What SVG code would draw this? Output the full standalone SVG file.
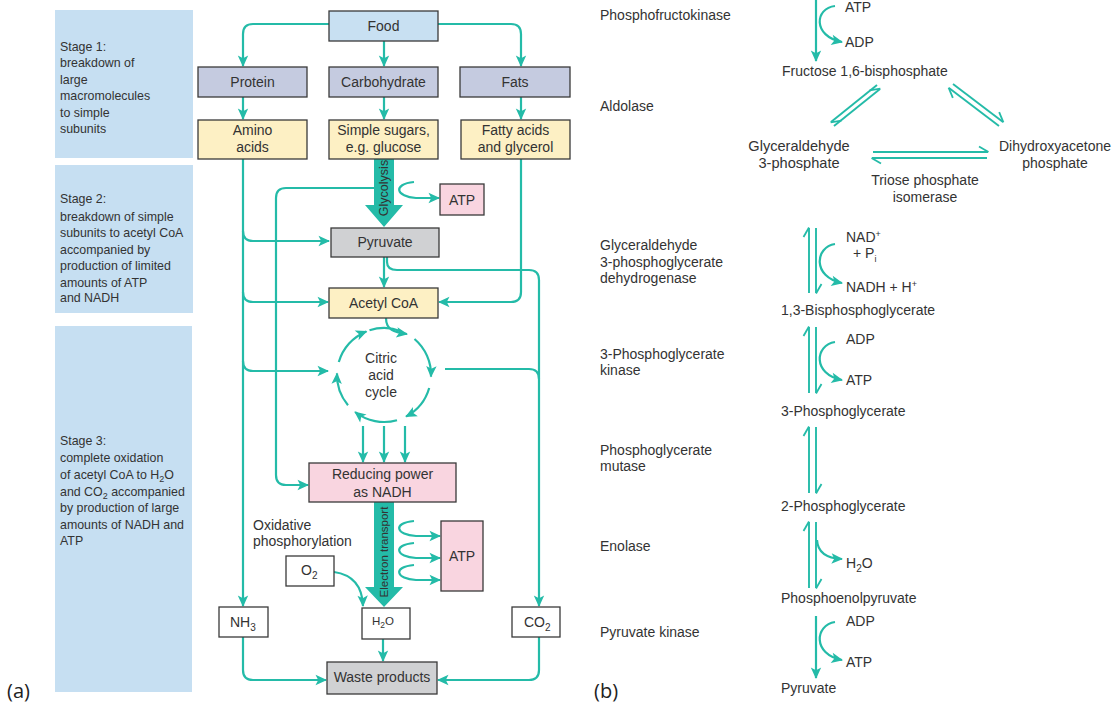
<svg xmlns="http://www.w3.org/2000/svg" width="1114" height="704" viewBox="0 0 1114 704">
  <style>
    text { font-family: "Liberation Sans", Arial, sans-serif; fill: #333; }
    .lbl { font-size: 14px; }
    .lg { font-size: 14.6px; }
    .mid { text-anchor: middle; }
    .stage { font-size: 12.4px; }
    .panel { fill: #c6dff2; }
    .box { stroke: #3a3a3a; stroke-width: 1.3; }
    .food { fill: #c8e0f2; }
    .macro { fill: #c5cbe0; }
    .unit { fill: #fdf0c4; }
    .pink { fill: #f9d5e0; }
    .grey { fill: #d0d1d3; }
    .white { fill: #ffffff; }
    .ln { fill: none; stroke: #24bba8; stroke-width: 2.2; }
    .ar { marker-end: url(#arrow); }
    .hp { fill: none; stroke: #24bba8; stroke-width: 1.9; marker-end: url(#harpoon); }
    .big { fill: #24bba8; }
    .tag { font-size: 20px; font-family: "Open Sans", "Liberation Sans", sans-serif; fill: #222; }
  </style>
  <defs>
    <marker id="arrow" markerUnits="userSpaceOnUse" markerWidth="14" markerHeight="14" viewBox="-12 -7 14 14" refX="0" refY="0" orient="auto" overflow="visible">
      <path d="M1,0 L-10.5,-5.2 L-7.8,0 L-10.5,5.2 Z" fill="#24bba8"/>
    </marker>
    <marker id="harpoon" markerUnits="userSpaceOnUse" markerWidth="14" markerHeight="14" viewBox="-12 -7 14 14" refX="0" refY="0" orient="auto" overflow="visible">
      <path d="M0.5,0 L-9,-5.5" fill="none" stroke="#24bba8" stroke-width="1.8"/>
    </marker>
  </defs>

  <!-- Stage panels -->
  <g id="stage1">
    <rect class="panel" x="55" y="10" width="138" height="148"/>
    <text class="stage" x="60" y="51">Stage 1:</text>
    <text class="stage" x="60" y="67">breakdown of</text>
    <text class="stage" x="60" y="84">large</text>
    <text class="stage" x="60" y="100">macromolecules</text>
    <text class="stage" x="60" y="117">to simple</text>
    <text class="stage" x="60" y="133">subunits</text>
  </g>
  <g id="stage2">
    <rect class="panel" x="55" y="165" width="138" height="148"/>
    <text class="stage" x="60" y="203">Stage 2:</text>
    <text class="stage" x="60" y="221">breakdown of simple</text>
    <text class="stage" x="60" y="237">subunits to acetyl CoA</text>
    <text class="stage" x="60" y="254">accompanied by</text>
    <text class="stage" x="60" y="270">production of limited</text>
    <text class="stage" x="60" y="287">amounts of ATP</text>
    <text class="stage" x="60" y="302">and NADH</text>
  </g>
  <g id="stage3">
    <rect class="panel" x="55" y="326" width="137" height="366"/>
    <text class="stage" x="60" y="445">Stage 3:</text>
    <text class="stage" x="60" y="462">complete oxidation</text>
    <text class="stage" x="60" y="479">of acetyl CoA to H<tspan dy="3" font-size="9">2</tspan><tspan dy="-3">O</tspan></text>
    <text class="stage" x="60" y="496">and CO<tspan dy="3" font-size="9">2</tspan><tspan dy="-3"> accompanied</tspan></text>
    <text class="stage" x="60" y="512">by production of large</text>
    <text class="stage" x="60" y="529">amounts of NADH and</text>
    <text class="stage" x="60" y="545">ATP</text>
  </g>
  <text class="tag" x="7" y="698">(a)</text>
  <text class="tag" x="594" y="698">(b)</text>

  <!-- Catabolism overview: connectors -->
  <g id="connectors-a">
    <path class="ln ar" d="M329,24 H253 Q243,24 243,34 V66"/>
    <path class="ln ar" d="M438,24 H511 Q521,24 521,34 V66"/>
    <path class="ln ar" d="M384,41 V66"/>
    <path class="ln ar" d="M243,97 V119"/>
    <path class="ln ar" d="M384,97 V119"/>
    <path class="ln ar" d="M521,97 V119"/>
    <!-- amino acid trunk and its branches -->
    <path class="ln ar" d="M243,159 V606"/>
    <path class="ln ar" d="M243,231 Q243,241 253,241 H329"/>
    <path class="ln ar" d="M243,292 Q243,302 253,302 H328"/>
    <path class="ln ar" d="M243,361 Q243,371 253,371 H328"/>
    <!-- glycolysis side route to NADH -->
    <path class="ln ar" d="M374,188 H286 Q276,188 276,198 V475 Q276,485 286,485 H308"/>
    <path class="ln ar" d="M414,182 C392,184 396,197 416,198 L439,198"/>
    <!-- fatty acids to acetyl CoA -->
    <path class="ln ar" d="M521,159 V292 Q521,302 511,302 H439"/>
    <!-- pyruvate -->
    <path class="ln ar" d="M384,257 V287"/>
    <path class="ln ar" d="M387,257 V262 Q387,270 397,270 H529 Q539,270 539,280 V606"/>
    <path class="ln" d="M445,369 H529 Q539,369 539,379"/>
    <!-- acetyl CoA into the cycle -->
    <path class="ln ar" d="M386,318 C386,330 394,332 407,334"/>
    <!-- citric acid cycle arcs -->
    <path class="ln ar" d="M414.5,339 A47,47 0 0 1 431,376.6"/>
    <path class="ln ar" d="M429.2,388 A47,47 0 0 1 406.1,416.5"/>
    <path class="ln ar" d="M397,420.2 A47,47 0 0 1 355.1,412"/>
    <path class="ln ar" d="M348,405.2 A47,47 0 0 1 337,373.4"/>
    <path class="ln ar" d="M338.8,362 A47,47 0 0 1 366.4,331.4"/>
    <path class="ln" d="M369.5,330.3 A47,47 0 0 1 401.6,331.4"/>
    <!-- cycle to NADH -->
    <path class="ln ar" d="M363,426 V462"/>
    <path class="ln ar" d="M384,426 V462"/>
    <path class="ln ar" d="M405,426 V462"/>
    <!-- electron transport to ATP -->
    <path class="ln ar" d="M414,521 C392,523 396,535 416,536 L440,536"/>
    <path class="ln ar" d="M414,543 C392,545 396,557 416,558 L440,558"/>
    <path class="ln ar" d="M414,565 C392,567 396,579 416,580 L440,580"/>
    <!-- oxygen to water -->
    <path class="ln ar" d="M334,572 Q362,576 363,606"/>
    <!-- waste -->
    <path class="ln ar" d="M383,639 V661"/>
    <path class="ln ar" d="M243,637 V670 Q243,680 253,680 H326"/>
    <path class="ln ar" d="M539,637 V670 Q539,680 529,680 H438"/>
  </g>

  <!-- Thick process arrows -->
  <g id="glycolysis">
    <polygon class="big" points="374,159 394,159 394,205 403,205 384,227 365,205 374,205"/>
    <text font-size="12.5" class="mid" transform="translate(388,188) rotate(-90)">Glycolysis</text>
  </g>
  <g id="electron-transport">
    <polygon class="big" points="374,502 394,502 394,587 403,587 384,607 365,587 374,587"/>
    <text font-size="11.5" class="mid" transform="translate(388,552) rotate(-90)">Electron transport</text>
  </g>

  <!-- Nodes -->
  <g id="food"><rect class="box food" x="329" y="11" width="109" height="30"/><text class="lbl mid" x="383.5" y="31">Food</text></g>
  <g id="protein"><rect class="box macro" x="198" y="67" width="109" height="30"/><text class="lbl mid" x="252.5" y="87">Protein</text></g>
  <g id="carbohydrate"><rect class="box macro" x="329" y="67" width="109" height="30"/><text class="lbl mid" x="383.5" y="87">Carbohydrate</text></g>
  <g id="fats"><rect class="box macro" x="460" y="67" width="110" height="30"/><text class="lbl mid" x="515" y="87">Fats</text></g>
  <g id="amino-acids"><rect class="box unit" x="198" y="120" width="109" height="39"/><text class="lbl mid" x="252.5" y="135">Amino</text><text class="lbl mid" x="252.5" y="152">acids</text></g>
  <g id="simple-sugars"><rect class="box unit" x="329" y="120" width="109" height="39"/><text class="lbl mid" x="383.5" y="135">Simple sugars,</text><text class="lbl mid" x="383.5" y="152">e.g. glucose</text></g>
  <g id="fatty-acids"><rect class="box unit" x="461" y="120" width="109" height="39"/><text class="lbl mid" x="515.5" y="135">Fatty acids</text><text class="lbl mid" x="515.5" y="152">and glycerol</text></g>
  <g id="atp-glycolysis"><rect class="box pink" x="440" y="184" width="44" height="31"/><text class="lbl mid" x="462" y="205">ATP</text></g>
  <g id="pyruvate-a"><rect class="box grey" x="331" y="228" width="108" height="29"/><text class="lbl mid" x="385" y="247">Pyruvate</text></g>
  <g id="acetyl-coa"><rect class="box unit" x="329" y="288" width="109" height="30"/><text class="lbl mid" x="383.5" y="308">Acetyl CoA</text></g>
  <g id="citric-acid-cycle"><text class="lbl mid" x="381" y="363">Citric</text><text class="lbl mid" x="381" y="380">acid</text><text class="lbl mid" x="381" y="397">cycle</text></g>
  <g id="reducing-power"><rect class="box pink" x="309" y="463" width="147" height="39"/><text class="lbl mid" x="382.5" y="479">Reducing power</text><text class="lbl mid" x="382.5" y="497">as NADH</text></g>
  <g id="oxidative-phosphorylation"><text class="lbl" x="253" y="530">Oxidative</text><text class="lbl" x="253" y="546">phosphorylation</text></g>
  <g id="atp-oxphos"><rect class="box pink" x="441" y="521" width="42" height="70"/><text class="lbl mid" x="462" y="561">ATP</text></g>
  <g id="oxygen"><rect class="box white" x="286" y="556" width="48" height="30"/><text class="lbl" x="301" y="575">O<tspan dy="4" font-size="10">2</tspan></text></g>
  <g id="ammonia"><rect class="box white" x="219" y="607" width="49" height="30"/><text class="lbl" x="230" y="627">NH<tspan dy="4" font-size="10">3</tspan></text></g>
  <g id="water"><rect class="box white" x="362" y="608" width="48" height="31"/><text font-size="11.5" x="372" y="625">H<tspan dy="3" font-size="8.5">2</tspan><tspan dy="-3">O</tspan></text></g>
  <g id="carbon-dioxide"><rect class="box white" x="512" y="607" width="48" height="30"/><text class="lbl" x="524" y="627">CO<tspan dy="4" font-size="10">2</tspan></text></g>
  <g id="waste-products"><rect class="box grey" x="327" y="662" width="110" height="32"/><text class="lbl mid" x="382" y="682">Waste products</text></g>

  <!-- Glycolysis pathway: connectors -->
  <g id="connectors-b">
    <path class="ln ar" d="M816,0 V61"/>
    <path class="ln ar" d="M835,6 C815,8 812,36 842,42"/>
    <path class="hp" d="M834,126 L880,89"/>
    <path class="hp" d="M877,85 L831,122"/>
    <path class="hp" d="M953,84 L1003,122"/>
    <path class="hp" d="M999,126 L949,88"/>
    <path class="hp" d="M873,152 H988"/>
    <path class="hp" d="M987,158 H872"/>
    <path class="hp" d="M809,293 V228"/>
    <path class="hp" d="M816,228 V293"/>
    <path class="ln ar" d="M835,244 C815,247 812,277 842,283"/>
    <path class="hp" d="M809,393 V327"/>
    <path class="hp" d="M816,327 V393"/>
    <path class="ln ar" d="M835,342 C815,345 812,374 842,380"/>
    <path class="hp" d="M809,493 V427"/>
    <path class="hp" d="M816,427 V493"/>
    <path class="hp" d="M809,588 V522"/>
    <path class="hp" d="M816,522 V588"/>
    <path class="ln ar" d="M817,540 Q818,558 842,559"/>
    <path class="ln ar" d="M816,616 V678"/>
    <path class="ln ar" d="M835,622 C815,625 812,654 842,660"/>
  </g>

  <!-- Enzyme labels -->
  <g id="enzymes">
    <text class="lbl" x="600" y="20">Phosphofructokinase</text>
    <text class="lbl" x="600" y="111">Aldolase</text>
    <text class="lbl" x="600" y="250">Glyceraldehyde</text>
    <text class="lbl" x="600" y="267">3-phosphoglycerate</text>
    <text class="lbl" x="600" y="283">dehydrogenase</text>
    <text class="lbl" x="600" y="359">3-Phosphoglycerate</text>
    <text class="lbl" x="600" y="375">kinase</text>
    <text class="lbl" x="600" y="455">Phosphoglycerate</text>
    <text class="lbl" x="600" y="471">mutase</text>
    <text class="lbl" x="600" y="551">Enolase</text>
    <text class="lbl" x="600" y="637">Pyruvate kinase</text>
  </g>

  <!-- Metabolites -->
  <g id="fructose-bisphosphate"><text class="lbl" x="782" y="76">Fructose 1,6-bisphosphate</text></g>
  <g id="glyceraldehyde-3-phosphate"><text class="lg mid" x="799" y="151">Glyceraldehyde</text><text class="lg mid" x="799" y="168">3-phosphate</text></g>
  <g id="dihydroxyacetone-phosphate"><text class="lbl mid" x="1055" y="151">Dihydroxyacetone</text><text class="lbl mid" x="1055" y="168">phosphate</text></g>
  <g id="triose-phosphate-isomerase"><text class="lbl mid" x="925" y="185">Triose phosphate</text><text class="lbl mid" x="925" y="202">isomerase</text></g>
  <g id="bisphosphoglycerate"><text class="lbl" x="781" y="315">1,3-Bisphosphoglycerate</text></g>
  <g id="phosphoglycerate-3"><text class="lbl" x="781" y="416">3-Phosphoglycerate</text></g>
  <g id="phosphoglycerate-2"><text class="lbl" x="781" y="511">2-Phosphoglycerate</text></g>
  <g id="phosphoenolpyruvate"><text class="lbl" x="781" y="603">Phosphoenolpyruvate</text></g>
  <g id="pyruvate-b"><text class="lbl" x="781" y="693">Pyruvate</text></g>

  <!-- Cofactors -->
  <g id="cofactors">
    <text class="lbl" x="845" y="12">ATP</text>
    <text class="lbl" x="845" y="47">ADP</text>
    <text class="lbl" x="846" y="242">NAD<tspan dy="-5" font-size="9">+</tspan></text>
    <text class="lbl" x="853" y="258">+ P<tspan dy="4" font-size="9">i</tspan></text>
    <text class="lbl" x="846" y="292">NADH + H<tspan dy="-5" font-size="9">+</tspan></text>
    <text class="lbl" x="846" y="344">ADP</text>
    <text class="lbl" x="846" y="385">ATP</text>
    <text class="lbl" x="846" y="568">H<tspan dy="4" font-size="10">2</tspan><tspan dy="-4">O</tspan></text>
    <text class="lbl" x="846" y="626">ADP</text>
    <text class="lbl" x="846" y="667">ATP</text>
  </g>
</svg>
